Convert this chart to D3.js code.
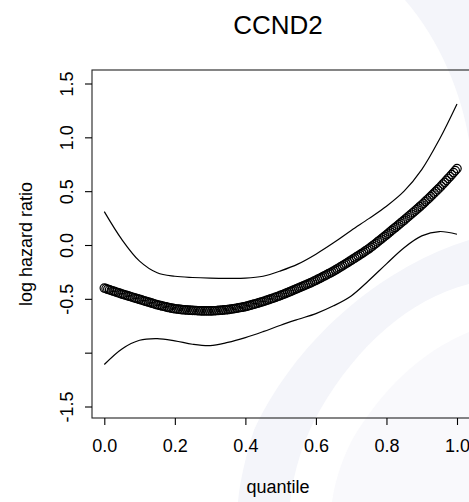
<!DOCTYPE html>
<html>
<head>
<meta charset="utf-8">
<script src="https://cdn.jsdelivr.net/npm/d3@7"></script>
<style>
  html, body { margin: 0; padding: 0; background: #ffffff; }
  svg { display: block; }
  text { font-family: "Liberation Sans", Arial, Helvetica, sans-serif; fill: #000; }
</style>
</head>
<body>
<svg id="chart" width="469" height="502"></svg>
<script>
// ---------------- data ----------------
const titleText = "CCND2";
const xLabel = "quantile";
const yLabel = "log hazard ratio";

const xTicks = [0, 0.2, 0.4, 0.6, 0.8, 1.0];
const xTickLabels = ["0.0", "0.2", "0.4", "0.6", "0.8", "1.0"];
const yTicks = [-1.5, -1.0, -0.5, 0, 0.5, 1.0, 1.5];
const yTickLabels = ["-1.5", "", "-0.5", "0.0", "0.5", "1.0", "1.5"]; // -1.0 label not printed in the original

// fitted log hazard ratio (plotted as circles)
const fitQuantile = [
  0.000,0.005,0.010,0.015,0.020,0.025,0.030,0.035,0.040,0.045,
  0.050,0.055,0.060,0.065,0.070,0.075,0.080,0.085,0.090,0.095,
  0.100,0.105,0.110,0.115,0.120,0.125,0.130,0.135,0.140,0.145,
  0.150,0.155,0.160,0.165,0.170,0.175,0.180,0.185,0.190,0.195,
  0.200,0.205,0.210,0.215,0.220,0.225,0.230,0.235,0.240,0.245,
  0.250,0.255,0.260,0.265,0.270,0.275,0.280,0.285,0.290,0.295,
  0.300,0.305,0.310,0.315,0.320,0.325,0.330,0.335,0.340,0.345,
  0.350,0.355,0.360,0.365,0.370,0.375,0.380,0.385,0.390,0.395,
  0.400,0.405,0.410,0.415,0.420,0.425,0.430,0.435,0.440,0.445,
  0.450,0.455,0.460,0.465,0.470,0.475,0.480,0.485,0.490,0.495,
  0.500,0.505,0.510,0.515,0.520,0.525,0.530,0.535,0.540,0.545,
  0.550,0.555,0.560,0.565,0.570,0.575,0.580,0.585,0.590,0.595,
  0.600,0.605,0.610,0.615,0.620,0.625,0.630,0.635,0.640,0.645,
  0.650,0.655,0.660,0.665,0.670,0.675,0.680,0.685,0.690,0.695,
  0.700,0.705,0.710,0.715,0.720,0.725,0.730,0.735,0.740,0.745,
  0.750,0.755,0.760,0.765,0.770,0.775,0.780,0.785,0.790,0.795,
  0.800,0.805,0.810,0.815,0.820,0.825,0.830,0.835,0.840,0.845,
  0.850,0.855,0.860,0.865,0.870,0.875,0.880,0.885,0.890,0.895,
  0.900,0.905,0.910,0.915,0.920,0.925,0.930,0.935,0.940,0.945,
  0.950,0.955,0.960,0.965,0.970,0.975,0.980,0.985,0.990,0.995,
  1.000
];
const fitValue = [
  -0.400,-0.4055,-0.411,-0.4165,-0.422,-0.4275,-0.433,-0.4385,-0.444,-0.4495,
  -0.455,-0.460,-0.465,-0.470,-0.475,-0.480,-0.485,-0.490,-0.495,-0.500,
  -0.505,-0.510,-0.515,-0.520,-0.525,-0.530,-0.535,-0.540,-0.545,-0.550,
  -0.555,-0.559,-0.563,-0.567,-0.571,-0.575,-0.579,-0.5825,-0.586,-0.589,
  -0.592,-0.594,-0.596,-0.598,-0.600,-0.6015,-0.603,-0.604,-0.605,-0.606,
  -0.607,-0.608,-0.609,-0.610,-0.611,-0.6115,-0.612,-0.612,-0.612,-0.612,
  -0.612,-0.6115,-0.611,-0.610,-0.609,-0.6075,-0.606,-0.6045,-0.603,-0.6015,
  -0.600,-0.5975,-0.595,-0.5925,-0.590,-0.587,-0.584,-0.581,-0.578,-0.575,
  -0.572,-0.5675,-0.563,-0.5585,-0.554,-0.5495,-0.545,-0.540,-0.535,-0.530,
  -0.525,-0.5195,-0.514,-0.5085,-0.503,-0.4975,-0.492,-0.486,-0.480,-0.474,
  -0.468,-0.4615,-0.455,-0.448,-0.441,-0.4345,-0.428,-0.421,-0.414,-0.407,
  -0.400,-0.393,-0.386,-0.379,-0.372,-0.365,-0.358,-0.3505,-0.343,-0.3355,
  -0.328,-0.3195,-0.311,-0.3025,-0.294,-0.2855,-0.277,-0.2685,-0.260,-0.2515,
  -0.243,-0.233,-0.223,-0.213,-0.203,-0.193,-0.183,-0.173,-0.163,-0.1525,
  -0.142,-0.1315,-0.121,-0.1105,-0.100,-0.0895,-0.079,-0.068,-0.057,-0.046,
  -0.035,-0.0225,-0.010,0.003,0.016,0.029,0.042,0.055,0.068,0.0815,
  0.095,0.1085,0.122,0.1355,0.149,0.1625,0.176,0.1895,0.203,0.2165,
  0.230,0.244,0.258,0.272,0.286,0.300,0.314,0.3285,0.343,0.3575,
  0.372,0.3875,0.403,0.4185,0.434,0.450,0.466,0.482,0.498,0.514,
  0.530,0.5475,0.565,0.5825,0.600,0.618,0.636,0.6545,0.673,0.6915,
  0.710
];

// confidence band (lines)
const ciQuantile = [0.00,0.05,0.10,0.15,0.20,0.25,0.30,0.35,0.40,0.45,0.50,0.55,0.60,0.65,0.70,0.75,0.80,0.85,0.90,0.95,1.00];
const ciUpper = [0.31,0.05,-0.15,-0.258,-0.29,-0.302,-0.308,-0.31,-0.308,-0.29,-0.24,-0.175,-0.085,0.02,0.135,0.245,0.36,0.50,0.70,0.98,1.31];
const ciLower = [-1.11,-0.965,-0.885,-0.87,-0.89,-0.922,-0.935,-0.905,-0.86,-0.805,-0.745,-0.69,-0.637,-0.565,-0.473,-0.33,-0.175,-0.025,0.085,0.125,0.10];

// ---------------- layout ----------------
const svg = d3.select("#chart");
const plot = { left: 92, top: 70, right: 500, bottom: 418 };

const x = d3.scaleLinear().domain([0, 1]).range([104.3, 457]);
const y = d3.scaleLinear().domain([-1.5, 1.5]).range([406.5, 83.5]);

// faint background watermark
const wm = svg.append("g").attr("class", "watermark");
wm.append("path")
  .attr("d", "M405,0 C440,40 462,95 469,140 L469,0 Z")
  .attr("fill", "#f4f5fa");
wm.append("path")
  .attr("d", "M469,240 C390,264 300,332 254,430 C246,455 240,480 238,502 L290,502 C294,470 303,440 320,410 C358,345 408,300 469,284 Z")
  .attr("fill", "#f4f5fa");
wm.append("path")
  .attr("d", "M469,332 C420,352 380,392 352,440 C342,460 335,480 332,502 L469,502 Z")
  .attr("fill", "#f9f9fc");

// box
svg.append("rect")
  .attr("x", plot.left).attr("y", plot.top)
  .attr("width", plot.right - plot.left).attr("height", plot.bottom - plot.top)
  .attr("fill", "none").attr("stroke", "#222").attr("stroke-width", 1.1);

// x axis
const xAxis = d3.axisBottom(x).tickValues(xTicks)
  .tickFormat((d, i) => xTickLabels[i]).tickSize(7).tickSizeOuter(0);
const gx = svg.append("g").attr("transform", `translate(0,${plot.bottom})`).call(xAxis);
gx.select(".domain").remove();
gx.selectAll(".tick line").attr("stroke", "#000").attr("stroke-width", 1.1);
gx.selectAll(".tick text")
  .attr("y", 34).attr("dy", 0)
  .style("font-family", "'Liberation Sans', Arial, Helvetica, sans-serif")
  .style("font-size", "18px").attr("fill", "#000");

// y axis
const yAxis = d3.axisLeft(y).tickValues(yTicks)
  .tickFormat((d, i) => yTickLabels[i]).tickSize(7).tickSizeOuter(0);
const gy = svg.append("g").attr("transform", `translate(${plot.left},0)`).call(yAxis);
gy.select(".domain").remove();
gy.selectAll(".tick line").attr("stroke", "#000").attr("stroke-width", 1.1);
gy.selectAll(".tick text")
  .attr("x", 0).attr("y", 0).attr("dy", 0)
  .attr("transform", "translate(-19,0) rotate(-90)")
  .attr("text-anchor", "middle")
  .style("font-family", "'Liberation Sans', Arial, Helvetica, sans-serif")
  .style("font-size", "18px").attr("fill", "#000");

// CI lines
const ciLine = (vals) => d3.line()
  .x((d, i) => x(ciQuantile[i]))
  .y((d) => y(d))
  .curve(d3.curveCatmullRom.alpha(0.5))(vals);
svg.append("path").attr("d", ciLine(ciUpper))
  .attr("fill", "none").attr("stroke", "#000").attr("stroke-width", 1.2);
svg.append("path").attr("d", ciLine(ciLower))
  .attr("fill", "none").attr("stroke", "#000").attr("stroke-width", 1.2);

// fitted circles
svg.append("g").selectAll("circle")
  .data(fitValue)
  .join("circle")
  .attr("cx", (d, i) => x(fitQuantile[i]))
  .attr("cy", (d) => y(d))
  .attr("r", 4.2)
  .attr("fill", "none")
  .attr("stroke", "#000")
  .attr("stroke-width", 1.2);

// title & axis labels
svg.append("text").attr("x", 278).attr("y", 34)
  .attr("text-anchor", "middle").style("font-size", "26px").text(titleText);
svg.append("text").attr("x", 278).attr("y", 493)
  .attr("text-anchor", "middle").style("font-size", "18px").text(xLabel);
svg.append("text")
  .attr("transform", `translate(31.5,${(plot.top + plot.bottom) / 2}) rotate(-90)`)
  .attr("text-anchor", "middle").style("font-size", "18px").text(yLabel);
</script>
</body>
</html>
